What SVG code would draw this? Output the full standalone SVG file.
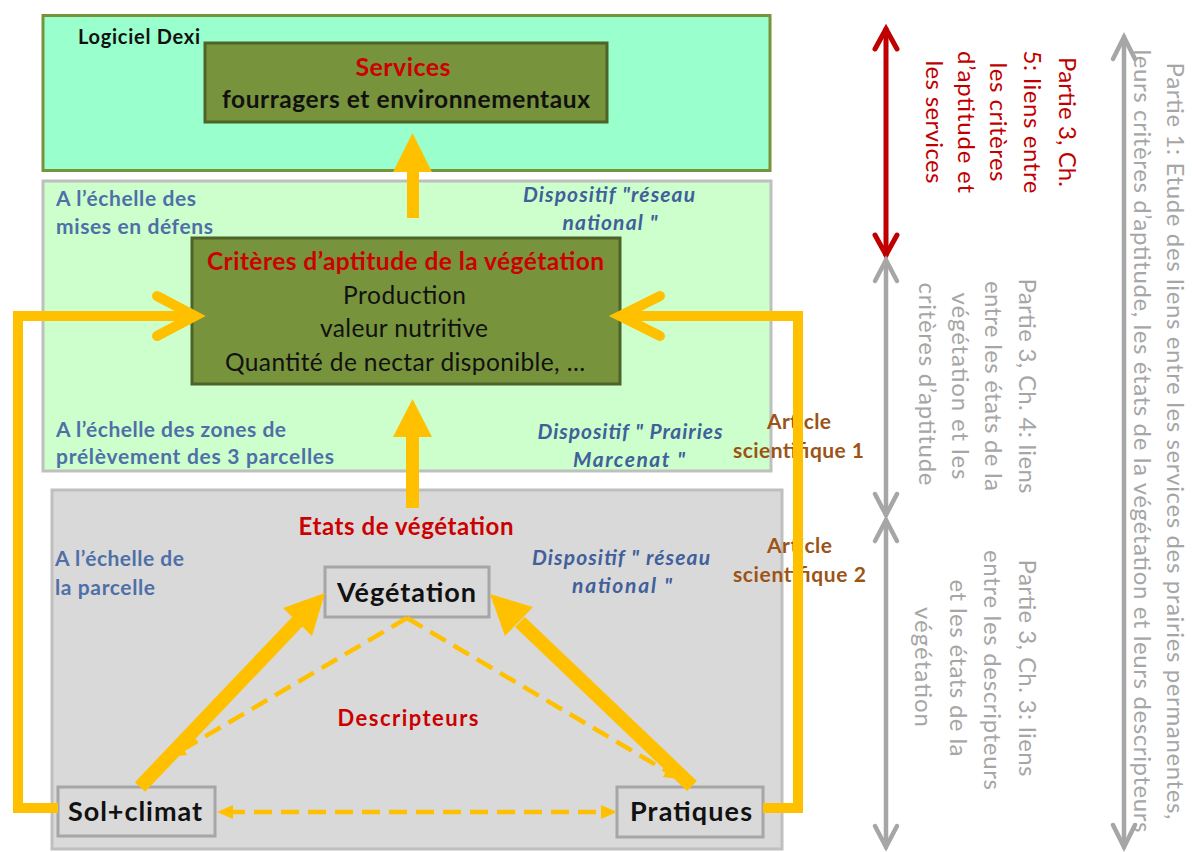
<svg xmlns="http://www.w3.org/2000/svg" width="1192" height="852" viewBox="0 0 1192 852">
<defs>
<style>
text{font-family:Lato,"Liberation Sans",sans-serif}
.frame-top{fill:#99FFCC;stroke:#77933C;stroke-width:3}
.frame-mid{fill:#CCFFCC;stroke:#BFBFBF;stroke-width:3}
.frame-low{fill:#D9D9D9;stroke:#BFBFBF;stroke-width:3}
.olive{fill:#77933C;stroke:#4F6228;stroke-width:3}
.node{fill:#D9D9D9;stroke:#A6A6A6;stroke-width:3}
.blue{fill:#4F6FA8;font-weight:700;font-size:21px}
.bluei{fill:#41609B;font-weight:700;font-style:italic;font-size:21px}
.brown{fill:#9C5416;font-weight:700;font-size:21px}
.red{fill:#CC0000;font-weight:700}
.blk{fill:#111111}
.c{text-anchor:middle}
.rr{fill:#C00000;font-size:24px;text-anchor:middle}
.rg{fill:#A6A6A6;font-size:24px;text-anchor:middle}
.orange{fill:#FFC000}
.loop{fill:none;stroke:#FFC000;stroke-width:10;stroke-linejoin:miter}
.chev{fill:none;stroke:#FFC000;stroke-width:10;stroke-linecap:round;stroke-linejoin:miter}
.thick{stroke:#FFC000;stroke-width:14;fill:none}
.dash{stroke:#FFC000;stroke-width:4.5;stroke-dasharray:18 9;fill:none}
.red-arrow{stroke:#C00000;stroke-width:5;fill:none;stroke-linecap:round}
.grey-arrow{stroke:#A6A6A6;stroke-width:4.5;fill:none;stroke-linecap:round}
</style>
<marker id="dh" viewBox="0 0 16 14" refX="6" refY="7" markerWidth="16" markerHeight="14" markerUnits="userSpaceOnUse" orient="auto-start-reverse">
<path d="M0,0 L16,7 L0,14 z" fill="#FFC000"/>
</marker>
</defs>

<g id="frame-dexi">
<rect class="frame-top" x="43" y="15.5" width="727" height="155"/>
<text x="78" y="44" font-size="20" font-weight="700" class="blk" textLength="122">Logiciel Dexi</text>
</g>

<g id="frame-defens">
<rect class="frame-mid" x="43" y="181" width="728" height="290"/>
<text class="blue" x="56" y="206" textLength="140">A l’échelle des</text>
<text class="blue" x="56" y="234" textLength="157">mises en défens</text>
<text class="bluei c" x="609" y="202" textLength="172">Dispositif "réseau</text>
<text class="bluei c" x="610" y="230" textLength="95">national "</text>
<text class="blue" x="56" y="437" textLength="230">A l’échelle des zones de</text>
<text class="blue" x="56" y="464" textLength="278">prélèvement des 3 parcelles</text>
<text class="bluei c" x="630" y="439" textLength="185">Dispositif " Prairies</text>
<text class="bluei c" x="629" y="467" textLength="112">Marcenat "</text>
</g>

<g id="frame-parcelle">
<rect class="frame-low" x="52" y="490" width="730" height="359"/>
<text class="red c" x="406" y="535" font-size="24" textLength="215">Etats de végétation</text>
<text class="blue" x="55" y="566" textLength="129">A l’échelle de</text>
<text class="blue" x="55" y="595" textLength="100">la parcelle</text>
<text class="bluei c" x="621" y="565" textLength="178">Dispositif " réseau</text>
<text class="bluei c" x="622" y="593" textLength="100">national "</text>
<text class="red c" x="408" y="726" font-size="22" textLength="141">Descripteurs</text>
</g>

<g id="node-services">
<rect class="olive" x="205" y="43" width="402" height="79"/>
<text class="red c" x="403" y="76" font-size="25" fill="#D40000" textLength="95">Services</text>
<text class="blk c" x="406" y="108" font-size="24.5" font-weight="700" textLength="368">fourragers et environnementaux</text>
</g>

<g id="node-criteres">
<rect class="olive" x="192" y="238" width="428" height="146"/>
<text class="red c" x="405.5" y="270" font-size="24.5" textLength="397">Critères d’aptitude de la végétation</text>
<text class="blk c" x="404.5" y="304" font-size="24.5" textLength="123">Production</text>
<text class="blk c" x="404" y="337" font-size="24.5" textLength="168">valeur nutritive</text>
<text class="blk c" x="405" y="371" font-size="24.5" textLength="360">Quantité de nectar disponible, …</text>
</g>

<g id="node-vegetation">
<rect class="node" x="325" y="567" width="164" height="50"/>
<text class="blk c" x="406.5" y="602" font-size="27" font-weight="700" textLength="139">Végétation</text>
</g>

<g id="node-sol">
<rect class="node" x="58" y="787" width="157" height="49"/>
<text class="blk c" x="135" y="821" font-size="27" font-weight="700" textLength="134">Sol+climat</text>
</g>

<g id="node-pratiques">
<rect class="node" x="617" y="787" width="146" height="50"/>
<text class="blk c" x="691" y="821" font-size="27" font-weight="700" textLength="122">Pratiques</text>
</g>

<g id="labels-articles">
<text class="brown c" x="799" y="429" textLength="64">Article</text>
<text class="brown c" x="798.5" y="458" textLength="131">scientifique 1</text>
<text class="brown c" x="799.5" y="553" textLength="65">Article</text>
<text class="brown c" x="799.5" y="582" textLength="133">scientifique 2</text>
</g>

<g id="connectors">
<rect class="orange" x="407" y="171" width="12" height="47"/>
<polygon class="orange" points="393,172 432,172 412.5,133"/>
<rect class="orange" x="406" y="436" width="13" height="72"/>
<polygon class="orange" points="393,437 432,437 412.5,399"/>
<polyline class="loop" points="58,808 18,808 18,316 192,316"/>
<polyline class="chev" points="157,296 195,316 157,336"/>
<polyline class="loop" points="763,808 798,808 798,316 622,316"/>
<polyline class="chev" points="660,296 620,316 660,336"/>
<line class="thick" x1="140" y1="787" x2="298" y2="621"/>
<polygon class="orange" points="325,593 312,636 283,608"/>
<line class="thick" x1="692" y1="786" x2="520" y2="622"/>
<polygon class="orange" points="490,594 533,607 505,636"/>
<line class="dash" x1="227" y1="812" x2="607" y2="812" marker-start="url(#dh)" marker-end="url(#dh)"/>
<line class="dash" x1="407" y1="618" x2="178.6" y2="752" marker-end="url(#dh)"/>
<line class="dash" x1="407" y1="618" x2="671.4" y2="774" marker-end="url(#dh)"/>
</g>

<g id="side-arrows">
<line class="red-arrow" x1="886" y1="29" x2="886" y2="255"/>
<polyline class="red-arrow" points="875,49 886,29 897,49"/>
<polyline class="red-arrow" points="875,235 886,255 897,235"/>
<line class="grey-arrow" x1="886" y1="260" x2="886" y2="515"/>
<polyline class="grey-arrow" points="875,281 886,260 897,281"/>
<polyline class="grey-arrow" points="875,494 886,515 897,494"/>
<line class="grey-arrow" x1="886" y1="520" x2="886" y2="847"/>
<polyline class="grey-arrow" points="875,541 886,520 897,541"/>
<polyline class="grey-arrow" points="875,826 886,847 897,826"/>
<line class="grey-arrow" x1="1124" y1="37" x2="1124" y2="847"/>
<polyline class="grey-arrow" points="1113,59 1124,37 1135,59"/>
<polyline class="grey-arrow" points="1113,825 1124,847 1135,825"/>
</g>

<g id="side-texts">
<text class="rr" transform="translate(1067,122) rotate(90)" dy="0.35em" textLength="130">Partie 3, Ch.</text>
<text class="rr" transform="translate(1032,122) rotate(90)" dy="0.35em" textLength="143">5: liens entre</text>
<text class="rr" transform="translate(998,122) rotate(90)" dy="0.35em" textLength="119">les critères</text>
<text class="rr" transform="translate(966,122) rotate(90)" dy="0.35em" textLength="142">d’aptitude et</text>
<text class="rr" transform="translate(934,122) rotate(90)" dy="0.35em" textLength="123">les services</text>

<text class="rg" transform="translate(1027,386) rotate(90)" dy="0.35em" textLength="215">Partie 3, Ch. 4: liens</text>
<text class="rg" transform="translate(993,386) rotate(90)" dy="0.35em" textLength="210">entre les états de la</text>
<text class="rg" transform="translate(960,386) rotate(90)" dy="0.35em" textLength="187">végétation et les</text>
<text class="rg" transform="translate(927,384) rotate(90)" dy="0.35em" textLength="203">critères d’aptitude</text>

<text class="rg" transform="translate(1027,668) rotate(90)" dy="0.35em" textLength="217">Partie 3, Ch. 3: liens</text>
<text class="rg" transform="translate(992,670) rotate(90)" dy="0.35em" textLength="240">entre les descripteurs</text>
<text class="rg" transform="translate(958,668) rotate(90)" dy="0.35em" textLength="177">et les états de la</text>
<text class="rg" transform="translate(923,667) rotate(90)" dy="0.35em" textLength="120">végétation</text>

<text class="rg" transform="translate(1175,441) rotate(90)" dy="0.35em" textLength="757">Partie 1: Etude des liens entre les services des prairies permanentes,</text>
<text class="rg" transform="translate(1142,441) rotate(90)" dy="0.35em" textLength="783">leurs critères d’aptitude, les états de la végétation et leurs descripteurs</text>
</g>
</svg>
